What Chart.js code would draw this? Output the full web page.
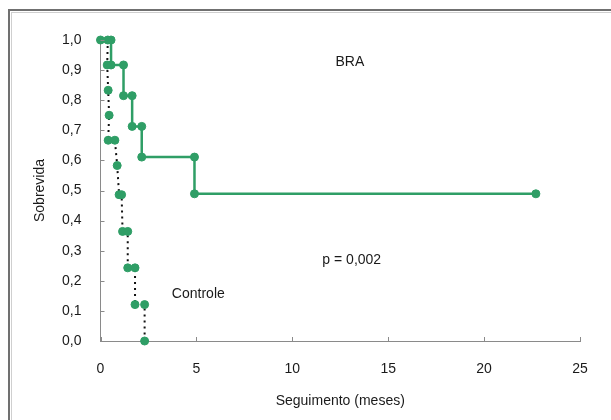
<!DOCTYPE html>
<html lang="pt">
<head>
  <meta charset="UTF-8">
  <title>Sobrevida</title>
  <script src="https://cdn.jsdelivr.net/npm/chart.js"></script>
  <style>
    body { margin: 0; background: #fff; }
    #box { width: 611px; height: 420px; }
  </style>
</head>
<body>
  <div id="box"><canvas id="grafico"></canvas></div>

  <script>
    // curva BRA (degraus: cada queda tem dois pontos)
    const braX = [0, 0.55, 0.55, 1.2, 1.2, 1.65, 1.65, 2.15, 2.15, 4.9, 4.9, 22.7];
    const braY = [1.0, 1.0, 0.917, 0.917, 0.815, 0.815, 0.713, 0.713, 0.611, 0.611, 0.489, 0.489];

    // curva Controle
    const ctrlX = [0.38, 0.35, 0.4, 0.45, 0.4, 0.75, 0.87, 0.97, 1.1, 1.15, 1.42, 1.42, 1.8, 1.8, 2.3, 2.3];
    const ctrlY = [1.0, 0.917, 0.833, 0.75, 0.667, 0.667, 0.583, 0.486, 0.486, 0.364, 0.364, 0.243, 0.243, 0.121, 0.121, 0];

    const xTicks = [0, 5, 10, 15, 20, 25];
    const yTicks = [0, 0.1, 0.2, 0.3, 0.4, 0.5, 0.6, 0.7, 0.8, 0.9, 1.0];

    // textos dentro do grafico (posicao em unidades dos eixos)
    const notas = [
      { text: 'BRA', x: 13.0, y: 0.927 },
      { text: 'p = 0,002', x: 13.1, y: 0.269 },
      { text: 'Controle', x: 5.1, y: 0.156 }
    ];

    const verde = '#2f9e66';
    const fonte = '"Liberation Sans", Arial, sans-serif';

    const pontos = (xs, ys) => xs.map((x, i) => ({ x: x, y: ys[i] }));

    // moldura cinza + tracinhos internos dos eixos + textos
    const extras = {
      id: 'extras',
      beforeDraw(chart) {
        const c = chart.ctx;
        c.save();
        c.fillStyle = '#fff';
        c.fillRect(0, 0, chart.width, chart.height);
        c.strokeStyle = '#707070';
        c.lineWidth = 2;
        c.strokeRect(9, 10, 700, 500);
        c.strokeStyle = '#cfcfcf';
        c.lineWidth = 1;
        c.strokeRect(11.5, 12.5, 700, 500);
        c.restore();
      },
      afterDatasetsDraw(chart) {
        const c = chart.ctx, sx = chart.scales.x, sy = chart.scales.y;
        c.save();
        c.strokeStyle = '#8a8a8a';
        c.lineWidth = 1;
        c.beginPath();
        xTicks.forEach(v => {
          const px = Math.round(sx.getPixelForValue(v)) + 0.5;
          c.moveTo(px, sy.bottom); c.lineTo(px, sy.bottom - 4);
        });
        yTicks.forEach(v => {
          const py = Math.round(sy.getPixelForValue(v)) + 0.5;
          c.moveTo(sx.left, py); c.lineTo(sx.left + 4, py);
        });
        c.stroke();
        c.fillStyle = '#1a1a1a';
        c.font = '14px ' + fonte;
        c.textAlign = 'center';
        c.textBaseline = 'middle';
        notas.forEach(n => c.fillText(n.text, sx.getPixelForValue(n.x), sy.getPixelForValue(n.y)));
        c.restore();
      }
    };

    const ctx = document.getElementById('grafico').getContext('2d');
    new Chart(ctx, {
      type: 'line',
      data: {
        datasets: [
          {
            label: 'Controle',
            data: pontos(ctrlX, ctrlY),
            borderColor: '#111',
            borderWidth: 2,
            borderDash: [2, 4],
            pointRadius: 4,
            pointBackgroundColor: verde,
            pointBorderColor: verde,
            pointBorderWidth: 1,
            fill: false,
            clip: false
          },
          {
            label: 'BRA',
            data: pontos(braX, braY),
            borderColor: verde,
            borderWidth: 2.5,
            pointRadius: 4,
            pointBackgroundColor: verde,
            pointBorderColor: verde,
            pointBorderWidth: 1,
            fill: false,
            clip: false
          }
        ]
      },
      options: {
        responsive: true,
        maintainAspectRatio: false,
        animation: false,
        layout: { padding: { left: 28, right: 31, top: 40, bottom: 10 } },
        plugins: { legend: { display: false }, tooltip: { enabled: false } },
        scales: {
          x: {
            type: 'linear',
            min: 0, max: 25,
            afterBuildTicks: s => { s.ticks = xTicks.map(v => ({ value: v })); },
            afterFit: s => { s.height = 69; },
            grid: { drawOnChartArea: false, drawTicks: false },
            border: { color: '#8a8a8a', width: 1 },
            ticks: { padding: 20, color: '#1a1a1a', font: { family: fonte, size: 14 } },
            title: { display: true, text: 'Seguimento (meses)', color: '#1a1a1a', padding: { top: 2, bottom: 0 }, font: { family: fonte, size: 14 } }
          },
          y: {
            min: 0, max: 1,
            afterBuildTicks: s => { s.ticks = yTicks.map(v => ({ value: v })); },
            afterFit: s => { s.width = 72.5; },
            grid: { drawOnChartArea: false, drawTicks: false },
            border: { color: '#8a8a8a', width: 1 },
            ticks: {
              padding: 19,
              color: '#1a1a1a',
              font: { family: fonte, size: 14 },
              callback: v => v.toFixed(1).replace('.', ',')
            },
            title: { display: true, text: 'Sobrevida', color: '#1a1a1a', padding: { top: 4, bottom: 0 }, font: { family: fonte, size: 14 } }
          }
        }
      },
      plugins: [extras]
    });
  </script>
</body>
</html>
